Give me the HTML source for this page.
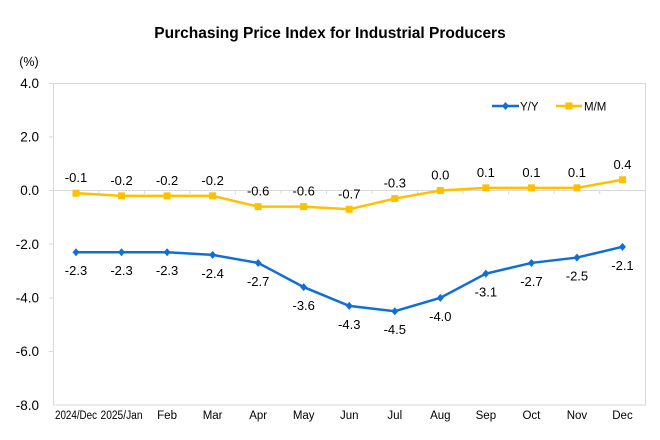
<!DOCTYPE html><html><head><style>body{margin:0;background:#fff}svg{display:block}text{font-family:"Liberation Sans",Arial,sans-serif}</style></head><body>
<svg width="660" height="440" xmlns="http://www.w3.org/2000/svg">
<text x="330" y="38" text-anchor="middle" font-size="15.5" font-weight="bold" fill="#000">Purchasing Price Index for Industrial Producers</text>
<text x="29" y="66" text-anchor="middle" font-size="12.5">(%)</text>
<rect x="53.5" y="83.5" width="592" height="321.5" fill="none" stroke="#d9d9d9"/>
<g font-size="13.5" text-anchor="end" fill="#000">
<text x="39" y="88">4.0</text><text x="39" y="141.5">2.0</text><text x="39" y="195">0.0</text><text x="39" y="249">-2.0</text><text x="39" y="302.5">-4.0</text><text x="39" y="356">-6.0</text><text x="39" y="410">-8.0</text></g>
<g stroke="#d9d9d9"><line x1="49" y1="83.5" x2="53" y2="83.5"/><line x1="49" y1="137" x2="53" y2="137"/><line x1="49" y1="190.5" x2="645" y2="190.5"/><line x1="49" y1="244" x2="53" y2="244"/><line x1="49" y1="298" x2="53" y2="298"/><line x1="49" y1="351.5" x2="53" y2="351.5"/></g>
<g id="tk" stroke="#d9d9d9"></g>
<g id="xl" font-size="11.5" text-anchor="middle" fill="#000"></g>
<polyline id="yy" fill="none" stroke="#0f6fd6" stroke-width="2.5"/>
<polyline id="mm" fill="none" stroke="#ffc000" stroke-width="2.5"/>
<g id="pts"></g>
<g font-size="13" text-anchor="middle" id="lb"></g>
<line x1="492" y1="106" x2="519" y2="106" stroke="#0f6fd6" stroke-width="2.5"/><path d="M505.5 102 L509 106 L505.5 110 L502 106Z" fill="#0f6fd6"/>
<text x="520" y="110.5" font-size="11.5">Y/Y</text>
<line x1="556" y1="106" x2="582" y2="106" stroke="#ffc000" stroke-width="2.5"/><rect x="565.5" y="102.5" width="7" height="7" fill="#ffc000"/>
<text x="584" y="110.5" font-size="11.5">M/M</text>
<script>
var yy=[-2.3,-2.3,-2.3,-2.4,-2.7,-3.6,-4.3,-4.5,-4.0,-3.1,-2.7,-2.5,-2.1],mm=[-0.1,-0.2,-0.2,-0.2,-0.6,-0.6,-0.7,-0.3,0.0,0.1,0.1,0.1,0.4];
var cats=["2024/Dec","2025/Jan","Feb","Mar","Apr","May","Jun","Jul","Aug","Sep","Oct","Nov","Dec"];
function X(i){return 76+i*45.54}function Y(v){return 190.5-v*26.83}
var ns="http://www.w3.org/2000/svg";function el(t,a,p,tx){var e=document.createElementNS(ns,t);for(var k in a)e.setAttribute(k,a[k]);if(tx!=null)e.textContent=tx;document.getElementById(p).appendChild(e);}
var a=[],b=[];for(var i=0;i<13;i++){a.push(X(i)+","+Y(yy[i]));b.push(X(i)+","+Y(mm[i]));
var at={x:X(i),y:419};if(cats[i].length>4){at.textLength=42;at.lengthAdjust="spacingAndGlyphs";}
el("text",at,"xl",cats[i]);
if(i>0)el("line",{x1:X(i)-22.77,y1:190.5,x2:X(i)-22.77,y2:194},"tk");
el("path",{d:"M"+X(i)+" "+(Y(yy[i])-4)+" l3.5 4 l-3.5 4 l-3.5 -4Z",fill:"#0f6fd6"},"pts");
el("rect",{x:X(i)-3.5,y:Y(mm[i])-3.5,width:7,height:7,fill:"#ffc000"},"pts");
el("text",{x:X(i),y:Y(yy[i])+23},"lb",yy[i].toFixed(1));
el("text",{x:X(i),y:Y(mm[i])-11},"lb",mm[i].toFixed(1));}
document.getElementById("yy").setAttribute("points",a.join(" "));document.getElementById("mm").setAttribute("points",b.join(" "));
</script>
</svg></body></html>
